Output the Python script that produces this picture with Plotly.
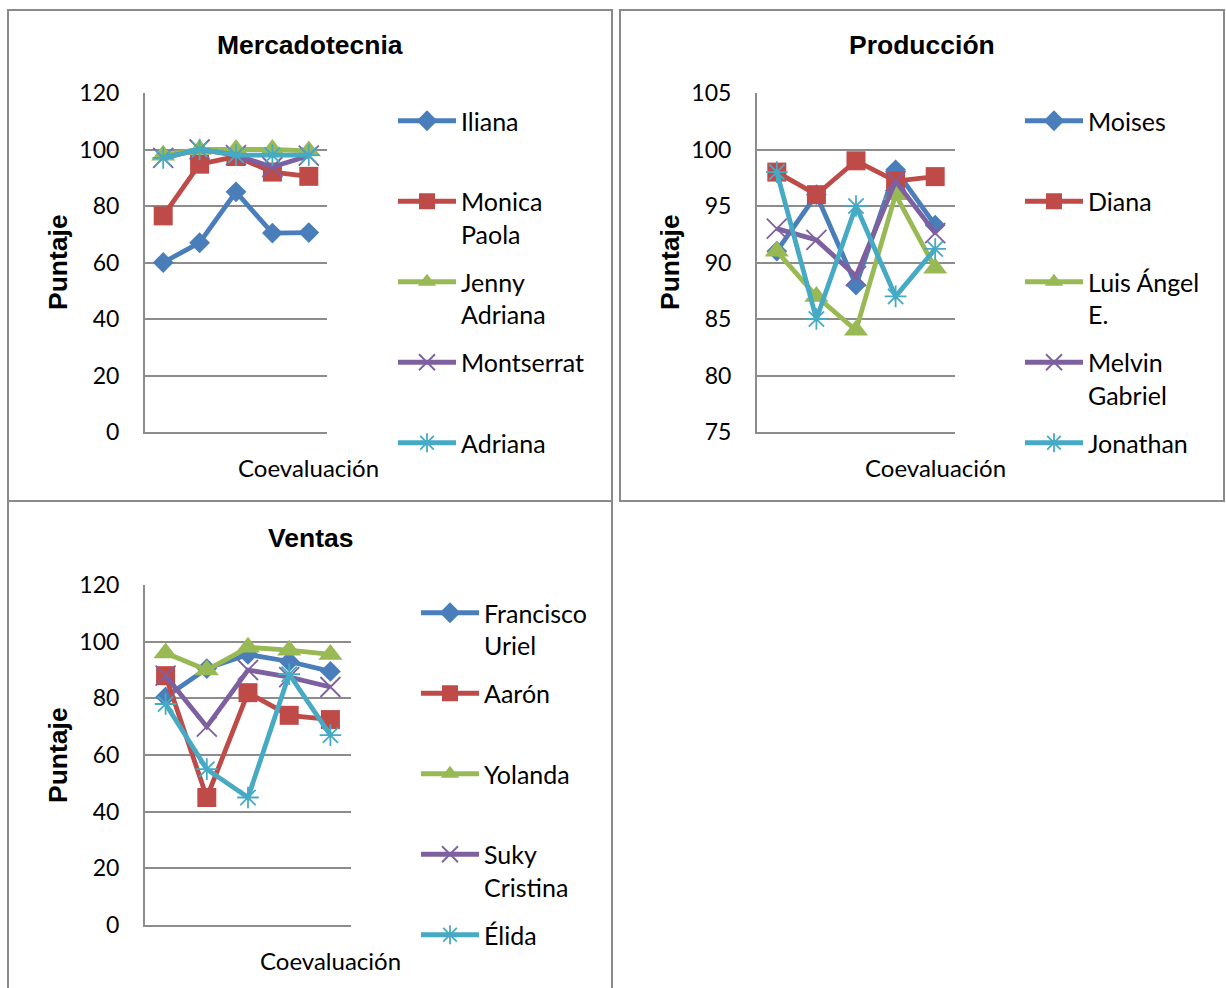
import plotly.graph_objects as go

W, H = 1226, 988

categories = ["1", "2", "3", "4", "5"]

# Mercadotecnia
merc_names = ["Iliana", "Monica Paola", "Jenny Adriana", "Montserrat", "Adriana"]
merc_iliana = [60, 67, 85, 70.4, 70.6]
merc_monica = [76.5, 94.8, 97.5, 92, 90.5]
merc_jenny = [98, 100, 100, 100, 99.5]
merc_montserrat = [97, 100, 98, 93.8, 97.8]
merc_adriana = [97, 100, 98, 98, 98]

# Producción
prod_names = ["Moises", "Diana", "Luis Ángel E.", "Melvin Gabriel", "Jonathan"]
prod_moises = [91, 96, 88, 98.2, 93.3]
prod_diana = [98, 96, 99, 97.2, 97.6]
prod_luis = [91, 87, 84, 96, 89.5]
prod_melvin = [93, 92, 88.8, 97.2, 92.6]
prod_jonathan = [98, 85, 95, 87, 91.2]

# Ventas
vent_names = ["Francisco Uriel", "Aarón", "Yolanda", "Suky Cristina", "Élida"]
vent_francisco = [80.5, 90.5, 95.5, 93, 89.5]
vent_aaron = [88, 45, 82, 74, 72.5]
vent_yolanda = [96, 90, 98, 97, 95.5]
vent_suky = [88, 70, 90, 87.5, 84]
vent_elida = [78, 55, 45, 88.5, 67]

colors = ["#4A7EBB", "#BE4B48", "#98B954", "#7D60A0", "#46AAC5"]
symbols = ["diamond", "square", "triangle-up", "x-thin-open", "asterisk-open"]
msizes = [16, 19, 21, 20, 18]

TXT = "Lato"
BOLD = "Liberation Sans"
GRID = "#8C8C8C"


def two_lines(name):
    if " " in name:
        a, b = name.rsplit(" ", 1)
        return a + "<br>" + b
    return name + "<br>\u00a0"


fig = go.Figure()

panels = [
    dict(names=merc_names, series=[merc_iliana, merc_monica, merc_jenny, merc_montserrat, merc_adriana],
         xd=(145, 327), yd=(93, 432), yr=(0, 120), dt=20, ax="", leg="legend"),
    dict(names=prod_names, series=[prod_moises, prod_diana, prod_luis, prod_melvin, prod_jonathan],
         xd=(757, 955), yd=(93, 432), yr=(75, 105), dt=5, ax="2", leg="legend2"),
    dict(names=vent_names, series=[vent_francisco, vent_aaron, vent_yolanda, vent_suky, vent_elida],
         xd=(145, 351), yd=(585, 925), yr=(0, 120), dt=20, ax="3", leg="legend3"),
]

for p_i, p in enumerate(panels):
    for i, (nm, vals) in enumerate(zip(p["names"], p["series"])):
        issym = symbols[i] in ("x-thin-open", "asterisk-open")
        fig.add_trace(go.Scatter(
            x=categories, y=vals, name=two_lines(nm), mode="lines+markers",
            xaxis="x" + p["ax"], yaxis="y" + p["ax"], legend=p["leg"],
            legendgroup=f"g{p_i}_{i}",
            line=dict(color=colors[i], width=4.8),
            marker=dict(symbol=symbols[i], size=msizes[i], color=colors[i],
                        line=dict(color=colors[i], width=1.8 if issym else 0)),
        ))
    xk = "xaxis" + p["ax"]
    yk = "yaxis" + p["ax"]
    fig.update_layout(**{
        xk: dict(domain=[p["xd"][0] / W, p["xd"][1] / W], anchor="y" + p["ax"],
                 type="category", range=[-0.5, 4.5], showticklabels=False, ticks="",
                 showgrid=False, showline=True, linecolor=GRID, linewidth=2, zeroline=False,
                 fixedrange=True),
        yk: dict(domain=[1 - p["yd"][1] / H, 1 - p["yd"][0] / H], anchor="x" + p["ax"],
                 range=list(p["yr"]), dtick=p["dt"], tick0=0, showgrid=True, gridcolor=GRID,
                 gridwidth=2, showline=True, linecolor=GRID, linewidth=2, zeroline=False,
                 ticks="", ticklabelstandoff=19,
                 tickfont=dict(family=TXT, size=23, color="#000"), fixedrange=True),
    })

legend_common = dict(
    orientation="v", xanchor="left", yanchor="top", traceorder="grouped",
    tracegroupgap=12.5, itemwidth=58, valign="top", bgcolor="rgba(0,0,0,0)",
    font=dict(family=TXT, size=25, color="#000"), itemclick=False, itemdoubleclick=False,
)
fig.update_layout(
    legend=dict(x=(393) / W, y=1 - 98 / H, **legend_common),
    legend2=dict(x=(1020) / W, y=1 - 98 / H, **legend_common),
    legend3=dict(x=(416) / W, y=1 - 590 / H, **legend_common),
)

# Panel borders
for (x0, y0, x1, y1) in [(8, 10, 612, 501), (620, 10, 1224, 501), (8, 501, 612, 1000)]:
    fig.add_shape(type="rect", xref="paper", yref="paper",
                  x0=x0 / W, x1=x1 / W, y0=1 - y1 / H, y1=1 - y0 / H,
                  line=dict(color="#8A8A8A", width=2), fillcolor="rgba(0,0,0,0)", layer="below")


def ann(text, x, y, font, angle=0):
    fig.add_annotation(text=text, x=x / W, y=1 - y / H, xref="paper", yref="paper",
                       showarrow=False, xanchor="center", yanchor="middle",
                       textangle=angle, font=font)


title_font = dict(family=BOLD, size=26.5, color="#000")
txt_font = dict(family=TXT, size=24, color="#000")

ann("<b>Mercadotecnia</b>", 310, 45, title_font)
ann("<b>Producción</b>", 922, 45, title_font)
ann("<b>Ventas</b>", 310, 538, title_font)
ann("<b>Puntaje</b>", 58, 262, title_font, -90)
ann("<b>Puntaje</b>", 670, 262, title_font, -90)
ann("<b>Puntaje</b>", 58, 755, title_font, -90)
ann("Coevaluación", 308, 467, txt_font)
ann("Coevaluación", 935, 467, txt_font)
ann("Coevaluación", 330, 960, txt_font)

fig.update_layout(
    width=W, height=H, margin=dict(l=0, r=0, t=0, b=0, autoexpand=False),
    paper_bgcolor="white", plot_bgcolor="white", showlegend=True,
)

fig.write_html("out.html", config={"displayModeBar": False},
               post_script="document.body.style.margin='0px';")
